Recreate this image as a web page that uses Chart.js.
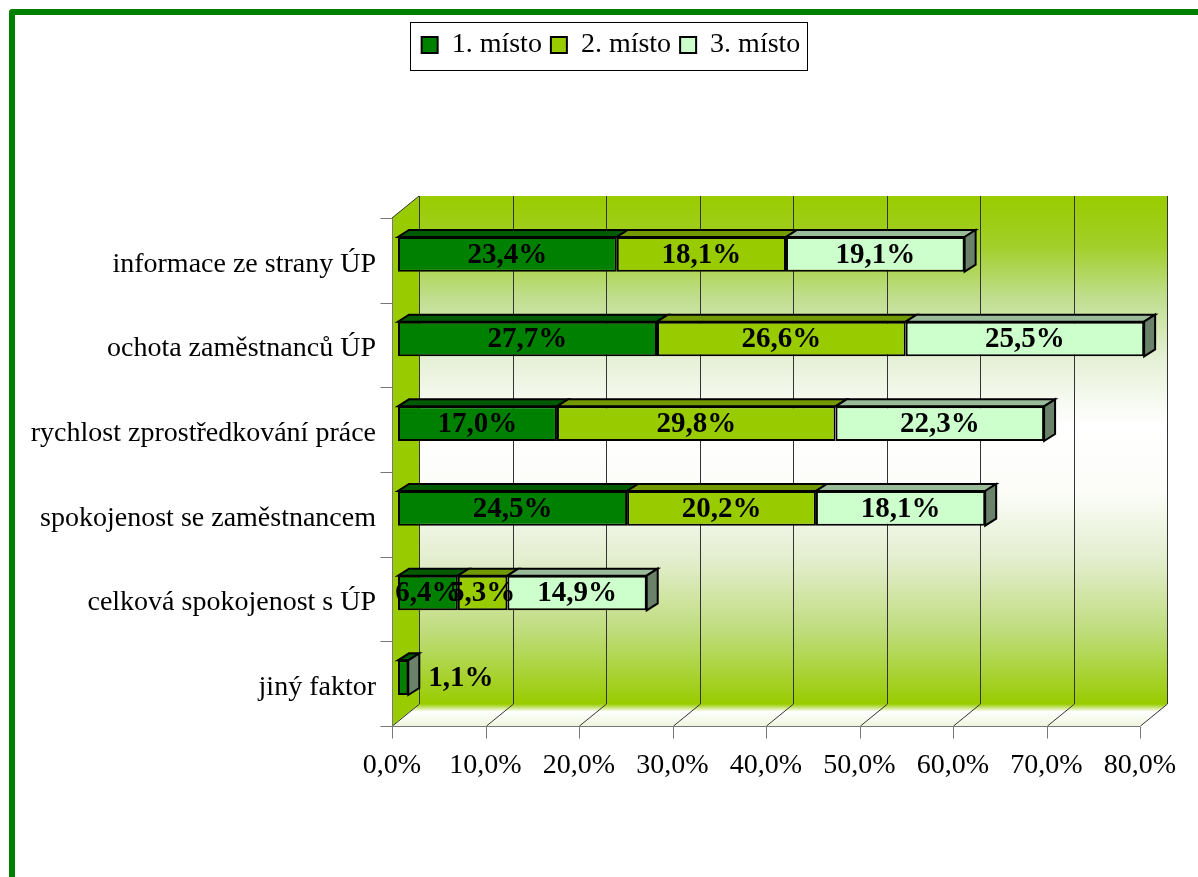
<!DOCTYPE html>
<html>
<head>
<meta charset="utf-8">
<title>Hodnocení ÚP</title>
<script src="https://cdn.jsdelivr.net/npm/chart.js@4.4.0/dist/chart.umd.min.js"></script>
<style>
  html, body { margin: 0; padding: 0; overflow: hidden; background: #fff; }
  #frame { position: absolute; left: 9px; top: 9px; width: 1300px; height: 1000px; border: 6px solid #008000; border-radius: 3px; }
  #chart { position: absolute; left: 0; top: 0; }
</style>
</head>
<body>
<div id="frame"></div>
<canvas id="chart" width="1198" height="877"></canvas>
<script>
const categories = [
  'informace ze strany ÚP',
  'ochota zaměstnanců ÚP',
  'rychlost zprostředkování práce',
  'spokojenost se zaměstnancem',
  'celková spokojenost s ÚP',
  'jiný faktor'
];
const seriesNames = ['1. místo', '2. místo', '3. místo'];
const place1 = [23.4, 27.7, 17.0, 24.5, 6.4, 1.1];
const place2 = [18.1, 26.6, 29.8, 20.2, 5.3, 0];
const place3 = [19.1, 25.5, 22.3, 18.1, 14.9, 0];
const xMax = 80;
const xStep = 10;

const FONT = "'Liberation Serif', 'Times New Roman', serif";
const frontColors = ['#008000', '#99CC00', '#CCFFCC'];
const topColors = ['#005A00', '#739900', '#99BB99'];
const sideColor = '#6A826A';
// 3D offsets of the bar box and of the walls (relative to the bar plane)
const BAR_DX = 11, BAR_DY = -7;
const BACK_DX = 21, BACK_DY = -16;
const FRONT_DX = -6, FRONT_DY = 6;

const fmt = v => Number(v).toFixed(1).replace('.', ',') + '%';

const wallsPlugin = {
  id: 'walls',
  afterLayout(chart) {
    // move legend up to the top and centre it like the original
    const lg = chart.legend;
    const h = lg.height;
    const shift = 611 - (lg.left + lg.right) / 2;
    lg.left += shift; lg.right += shift;
    lg.top = 22; lg.bottom = 22 + h;
  },
  beforeDraw(chart) {
    const { ctx } = chart;
    const lg = chart.legend;
    const pad = lg.options.labels.padding;
    const lw = lg.lineWidths[0];
    const start = (lg.left + pad + lg.right - lw) / 2;
    ctx.save();
    ctx.strokeStyle = '#000';
    ctx.lineWidth = 1;
    ctx.strokeRect(Math.round(start - 12) + 0.5, 22.5, Math.round(lw - pad + 18), 48);
    ctx.restore();
  },
  beforeDatasetsDraw(chart) {
    const { ctx, chartArea: ca, scales: { x, y } } = chart;
    const bx = v => x.getPixelForValue(v) + BACK_DX;
    const fx = v => x.getPixelForValue(v) + FRONT_DX;
    const bTop = ca.top + BACK_DY, bBot = ca.bottom + BACK_DY;
    const fTop = ca.top + FRONT_DY, fBot = ca.bottom + FRONT_DY;
    const x0 = x.min, x1 = x.max;
    const r = p => Math.round(p) + 0.5;
    ctx.save();

    // back wall
    const g = ctx.createLinearGradient(0, bTop, 0, bBot);
    g.addColorStop(0, '#99CC00');
    g.addColorStop(0.1, '#A2CF2A');
    g.addColorStop(0.2, '#C0DE8E');
    g.addColorStop(0.32, '#E6F0D6');
    g.addColorStop(0.45, '#FFFFFF');
    g.addColorStop(0.58, '#FCFDF9');
    g.addColorStop(0.72, '#E2EDCC');
    g.addColorStop(0.86, '#BEDC7A');
    g.addColorStop(1, '#99CC00');
    ctx.fillStyle = g;
    ctx.fillRect(bx(x0), bTop, bx(x1) - bx(x0), bBot - bTop);

    // floor
    const gf = ctx.createLinearGradient(0, bBot, 0, fBot);
    gf.addColorStop(0, '#99CC00');
    gf.addColorStop(0.35, '#FFFFFF');
    gf.addColorStop(1, '#EEF5DD');
    ctx.fillStyle = gf;
    ctx.beginPath();
    ctx.moveTo(fx(x0), fBot);
    ctx.lineTo(fx(x1), fBot);
    ctx.lineTo(bx(x1), bBot);
    ctx.lineTo(bx(x0), bBot);
    ctx.closePath();
    ctx.fill();

    // left wall
    ctx.fillStyle = '#99CC00';
    ctx.beginPath();
    ctx.moveTo(fx(x0), fTop);
    ctx.lineTo(bx(x0), bTop);
    ctx.lineTo(bx(x0), bBot);
    ctx.lineTo(fx(x0), fBot);
    ctx.closePath();
    ctx.fill();

    // gridlines on back wall and floor
    ctx.strokeStyle = '#333';
    ctx.lineWidth = 1;
    x.ticks.forEach(t => {
      ctx.beginPath();
      ctx.moveTo(r(bx(t.value)), bTop);
      ctx.lineTo(r(bx(t.value)), bBot);
      ctx.lineTo(r(fx(t.value)), fBot);
      ctx.stroke();
    });
    ctx.beginPath();
    ctx.moveTo(fx(x0), fTop);
    ctx.lineTo(bx(x0), bTop);
    ctx.stroke();

    // front axes and tick marks
    ctx.strokeStyle = '#777';
    ctx.beginPath();
    ctx.moveTo(r(fx(x0)), fTop);
    ctx.lineTo(r(fx(x0)), r(fBot));
    ctx.lineTo(fx(x1), r(fBot));
    for (let i = 0; i <= categories.length; i++) {
      const yy = r(y.getPixelForValue(i - 0.5) + FRONT_DY);
      ctx.moveTo(r(fx(x0)) - 12, yy);
      ctx.lineTo(r(fx(x0)), yy);
    }
    x.ticks.forEach(t => {
      ctx.moveTo(r(fx(t.value)), r(fBot));
      ctx.lineTo(r(fx(t.value)), r(fBot) + 12);
    });
    ctx.stroke();
    ctx.restore();
  },
  afterDatasetsDraw(chart) {
    const { ctx } = chart;
    const sets = chart.data.datasets;
    ctx.save();
    ctx.lineWidth = 2;
    ctx.strokeStyle = '#000';
    ctx.lineJoin = 'miter';

    const face = (pts, fill) => {
      ctx.beginPath();
      ctx.moveTo(pts[0][0], pts[0][1]);
      pts.slice(1).forEach(p => ctx.lineTo(p[0], p[1]));
      ctx.closePath();
      ctx.fillStyle = fill;
      ctx.fill();
      ctx.stroke();
    };

    for (let i = 0; i < categories.length; i++) {
      let end = 0, top = 0, bottom = 0;
      sets.forEach((ds, d) => {
        const bar = chart.getDatasetMeta(d).data[i];
        const { x, y, base, height } = bar.getProps(['x', 'y', 'base', 'height'], true);
        const t = y - height / 2;
        if (ds.data[i] > 0) {
          face([[base, t], [x, t], [x + BAR_DX, t + BAR_DY], [base + BAR_DX, t + BAR_DY]], topColors[d]);
        }
        end = x; top = t; bottom = y + height / 2;
      });
      face([[end, top], [end + BAR_DX, top + BAR_DY], [end + BAR_DX, bottom + BAR_DY], [end, bottom]], sideColor);
    }

    // value labels
    ctx.fillStyle = '#000';
    ctx.font = 'bold 29px ' + FONT;
    ctx.textBaseline = 'middle';
    sets.forEach((ds, d) => {
      chart.getDatasetMeta(d).data.forEach((bar, i) => {
        const v = ds.data[i];
        if (!(v > 0)) return;
        const { x, y, base } = bar.getProps(['x', 'y', 'base'], true);
        if (v < 3) {
          ctx.textAlign = 'left';
          ctx.fillText(fmt(v), x + 20, y + 1);
        } else {
          ctx.textAlign = 'center';
          ctx.fillText(fmt(v), (x + base) / 2, y + 1);
        }
      });
    });
    ctx.restore();
  }
};

const series = [place1, place2, place3];

new Chart(document.getElementById('chart'), {
  type: 'bar',
  data: {
    labels: categories,
    datasets: series.map((data, d) => ({
      label: seriesNames[d],
      data: data,
      backgroundColor: frontColors[d],
      borderColor: '#000',
      borderWidth: 2,
      borderSkipped: false,
      categoryPercentage: 1,
      barPercentage: 0.41
    }))
  },
  options: {
    responsive: false,
    animation: false,
    indexAxis: 'y',
    layout: { padding: { top: 165, right: 52, bottom: 0, left: 0 } },
    plugins: {
      legend: {
        position: 'top',
        labels: {
          color: '#000',
          font: { family: FONT, size: 28 },
          boxWidth: 16,
          boxHeight: 16,
          padding: 9
        }
      },
      tooltip: { enabled: false }
    },
    scales: {
      x: {
        stacked: true,
        min: 0,
        max: xMax,
        afterFit: s => { s.height = 157; },
        grid: { display: false, drawTicks: true, tickLength: 29 },
        border: { display: false },
        ticks: {
          stepSize: xStep,
          padding: 0,
          labelOffset: FRONT_DX,
          color: '#000',
          font: { family: FONT, size: 28 },
          callback: v => fmt(v)
        }
      },
      y: {
        stacked: true,
        afterFit: s => { s.width = 398; },
        grid: { display: false, drawTicks: false },
        border: { display: false },
        ticks: {
          padding: 22,
          labelOffset: 10,
          color: '#000',
          font: { family: FONT, size: 28 }
        }
      }
    }
  },
  plugins: [wallsPlugin]
});
</script>
</body>
</html>
